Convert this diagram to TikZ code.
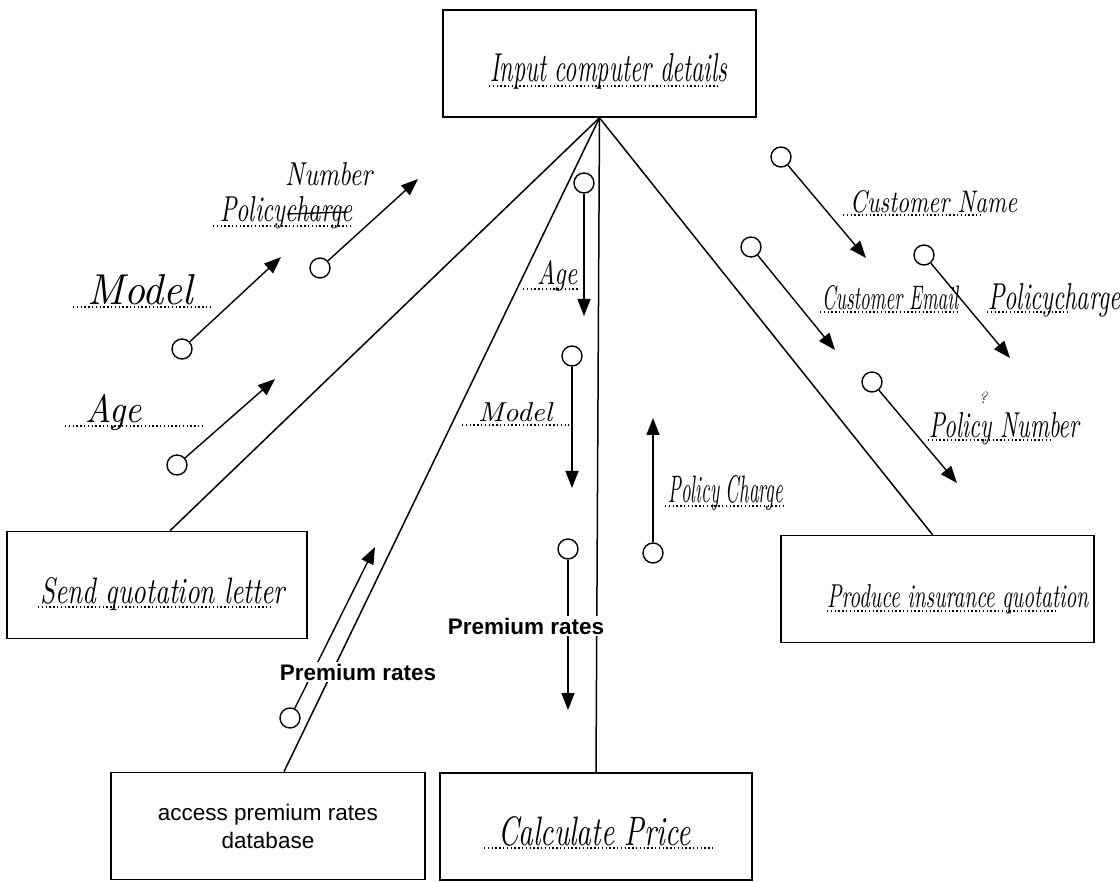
\documentclass[tikz,border=0pt]{standalone}
\usepackage{fontspec}
\newfontfamily\arialf{Liberation Sans}
\usetikzlibrary{arrows.meta}
\newcommand{\hw}[3]{\resizebox{#1pt}{#2pt}{\itshape #3}}
\begin{document}
\begin{tikzpicture}[x=1pt,y=-1pt,
  box/.style={draw,line width=1.6pt,minimum width=#1,minimum height=107pt,inner sep=0pt},
  link/.style={line width=1.5pt},
  circ/.style={draw,circle,minimum size=20pt,inner sep=0pt,line width=1.4pt},
  flow/.style={line width=1.4pt,-{Triangle[length=17pt,width=13pt]}},
  hwl/.style={anchor=base west,inner sep=0pt},
  uline/.style={line width=1.4pt,dash pattern=on 1.4pt off 2.4pt},
  prem/.style={font=\arialf\bfseries\fontsize{22.5}{27}\selectfont,fill=white,inner sep=1.5pt},
  sans/.style={font=\arialf\fontsize{22.5}{28}\selectfont,align=center}]
\useasboundingbox (0,0) rectangle (1120,882);
% boxes
\node[box=313pt] (top) at (599.5,63.5) {};
\node[box=300pt] (send) at (157,585) {};
\node[box=314pt,sans] (access) at (268,826) {access premium rates\\database};
\node[box=312pt] (calc) at (596,826.5) {};
\node[box=313pt] (produce) at (937.5,589) {};
% box labels
\node[hwl] (ltop) at (490,82) {\hw{237}{28}{Input computer details}};
\draw[uline] (489,86) -- (718,86);
\node[hwl] (lsend) at (40,603) {\hw{245}{26}{Send quotation letter}};
\draw[uline] (38,607) -- (270,607);
\node[hwl] (lprod) at (827,607) {\hw{261}{23}{Produce insurance quotation}};
\draw[uline] (827,611) -- (1057,611);
\node[hwl] (lcalc) at (498,845) {\hw{192}{29}{Calculate Price}};
\draw[uline] (484,848) -- (713,848);
% connectors
\draw[link] (top.south) -- ([xshift=13pt]send.north);
\draw[link] (top.south) -- ([xshift=16pt]access.north);
\draw[link] (top.south) -- (calc.north);
\draw[link] (top.south) -- ([xshift=-5pt]produce.north);
% couples
\node[circ] (c1) at (182,349) {};  \coordinate (t1) at (281,257);
\node[circ] (c2) at (320,268) {};  \coordinate (t2) at (418,179);
\node[circ] (c3) at (177,465) {};  \coordinate (t3) at (275,379);
\node[circ] (c4) at (290,718) {};  \coordinate (t4) at (375,547);
\node[circ] (c5) at (584,183) {};  \coordinate (t5) at (584,316);
\node[circ] (c6) at (572,356) {};  \coordinate (t6) at (572,488);
\node[circ] (c7) at (568,549) {};  \coordinate (t7) at (568,710);
\node[circ] (c8) at (653,553) {};  \coordinate (t8) at (653,418);
\node[circ] (c9) at (781,157) {};  \coordinate (t9) at (866,258);
\node[circ] (c10) at (751,247) {}; \coordinate (t10) at (835,350);
\node[circ] (c11) at (924,255) {}; \coordinate (t11) at (1010,358);
\node[circ] (c12) at (872,382) {}; \coordinate (t12) at (957,483);
\foreach \i in {1,...,12} \draw[flow] (c\i) -- (t\i);
% couple labels
\node[hwl] (lmodl) at (87,305) {\hw{106}{30}{Model}};
\draw[uline] (73,307) -- (213,307);
\node[hwl] (lpol) at (220,222) {\hw{132}{25}{Policycharge}};
\draw[uline] (213,226) -- (352,226);
\draw[line width=1.3pt] (287,214) -- (347,212);
\node[hwl] (lnum) at (285,186) {\hw{87}{23}{Number}};
\node[hwl] (lagel) at (85,423) {\hw{57}{28}{Age}};
\draw[uline] (65,426) -- (203,426);
\node[hwl] (lagec) at (537,285) {\hw{40}{24}{Age}};
\draw[uline] (523,289) -- (578,289);
\node[hwl] (lmodc) at (478,422) {\hw{74}{19}{Model}};
\draw[uline] (462,425) -- (569,425);
\node[hwl] (lpc) at (668,503) {\hw{115}{27}{Policy Charge}};
\draw[uline] (665,506) -- (785,506);
\node[hwl] (lcn) at (850,213) {\hw{167}{22}{Customer Name}};
\draw[uline] (843,215) -- (982,215);
\node[hwl] (lce) at (822,310) {\hw{136}{24}{Customer Email}};
\draw[uline] (820,312) -- (958,312);
\node[hwl] (lpcr) at (988,310) {\hw{132}{26}{Policycharge}};
\draw[uline] (987,312) -- (1070,312);
\node[hwl] (lpn) at (929,438) {\hw{150}{25}{Policy Number}};
\draw[uline] (928,440) -- (1053,440);
\node[font=\itshape\fontsize{16}{18}\selectfont,inner sep=0pt] (q) at (983,398) {?};
% premium rates labels (drawn over lines)
\node[prem] (pl) at (358,672) {Premium rates};
\node[prem] (pc) at (526,626) {Premium rates};
\end{tikzpicture}
\end{document}
